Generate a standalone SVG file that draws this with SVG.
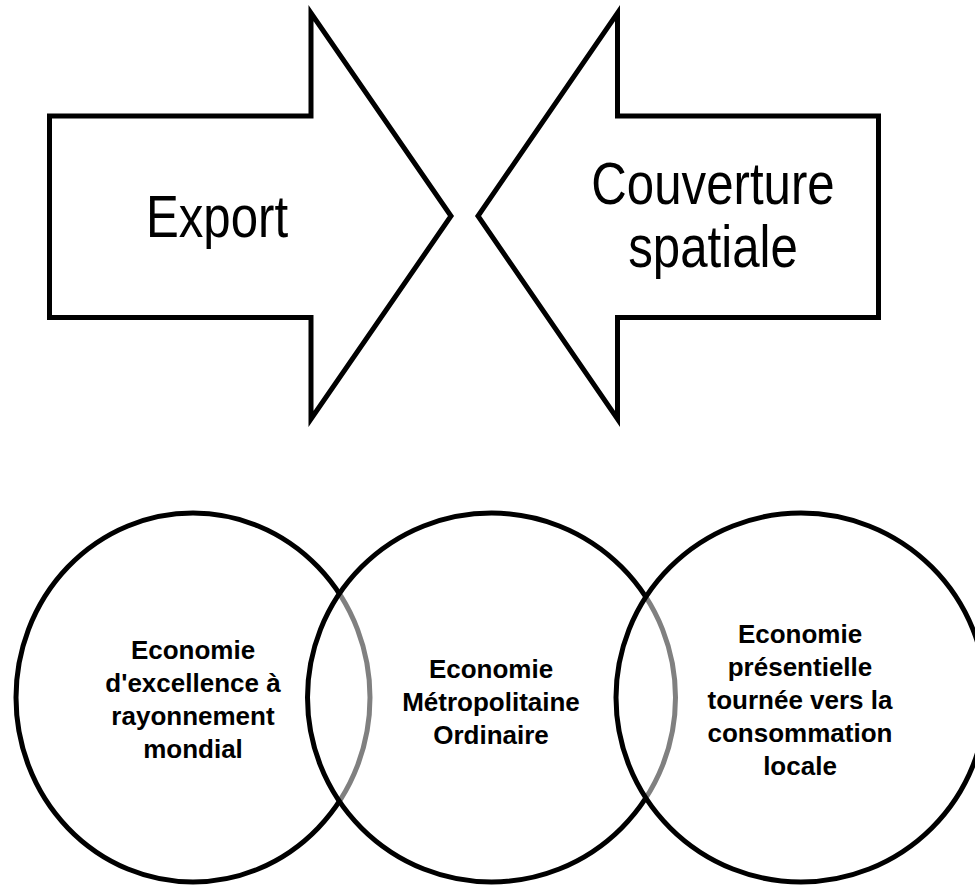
<svg xmlns="http://www.w3.org/2000/svg" width="975" height="887" viewBox="0 0 975 887">
<style>
.arrow{fill:#fff;stroke:#000;stroke-width:5;stroke-linejoin:miter;stroke-miterlimit:10}
.circ{fill:#fff;fill-opacity:0.5;stroke:#000;stroke-width:5}
.big{font-family:"Liberation Sans",Arial,sans-serif;font-size:60px;fill:#000;text-anchor:middle}
.lbl{font-family:"Liberation Sans",Arial,sans-serif;font-weight:bold;font-size:26px;fill:#000;text-anchor:middle}
</style>
<rect width="975" height="887" fill="#fff"/>
<g id="export">
<polygon class="arrow" points="49.5,116 311,116 311,13 451,216 311,419 311,317.5 49.5,317.5"/>
<text class="big" transform="translate(217,237) scale(0.82,1)" x="0" y="0">Export</text>
</g>
<g id="couverture">
<polygon class="arrow" points="878.5,116 617.5,116 617.5,13 478,216 617.5,419 617.5,317.5 878.5,317.5"/>
<text class="big" transform="translate(713,204) scale(0.82,1)" x="0" y="0">Couverture</text>
<text class="big" transform="translate(713,267) scale(0.82,1)" x="0" y="0">spatiale</text>
</g>
<g id="excellence">
<ellipse class="circ" cx="193" cy="697.5" rx="177" ry="184.5"/>
<text class="lbl" x="193" y="659">Economie</text>
<text class="lbl" x="193" y="692">d'excellence à</text>
<text class="lbl" x="193" y="725">rayonnement</text>
<text class="lbl" x="193" y="758">mondial</text>
</g>
<g id="metropolitaine">
<ellipse class="circ" cx="491.5" cy="697.5" rx="184" ry="184.5"/>
<text class="lbl" x="491" y="678">Economie</text>
<text class="lbl" x="491" y="711">Métropolitaine</text>
<text class="lbl" x="491" y="744">Ordinaire</text>
</g>
<g id="presentielle">
<ellipse class="circ" cx="801" cy="697.5" rx="185" ry="184.5"/>
<text class="lbl" x="800" y="643">Economie</text>
<text class="lbl" x="800" y="676">présentielle</text>
<text class="lbl" x="800" y="709">tournée vers la</text>
<text class="lbl" x="800" y="742">consommation</text>
<text class="lbl" x="800" y="775">locale</text>
</g>
<g id="connectors"/>
</svg>
